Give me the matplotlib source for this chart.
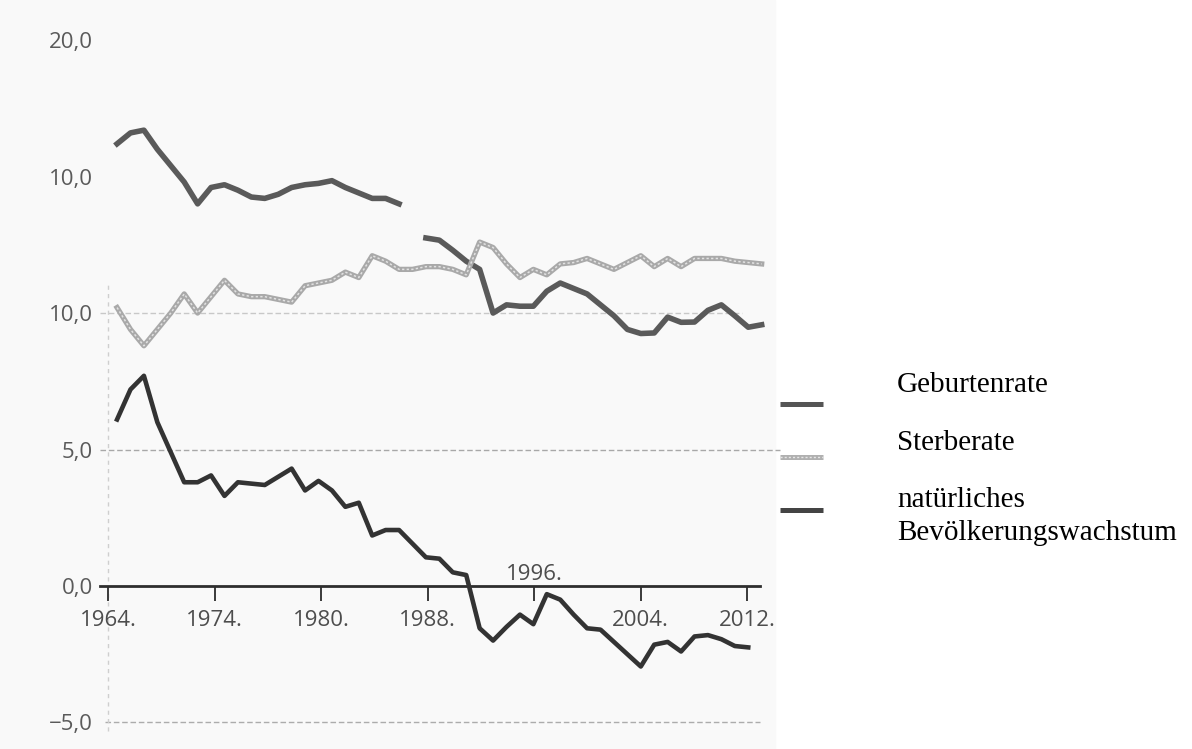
import numpy as np
import matplotlib
matplotlib.use('Agg')
import matplotlib.pyplot as plt
from matplotlib import font_manager
from matplotlib.lines import Line2D
from matplotlib.patches import Rectangle

# data (per 1000 inhabitants)
years = np.arange(1964, 2013)
geburten = [16.2, 16.6, 16.7, 16.0, 15.4, 14.8, 14.0, 14.6, 14.7, 14.5,
            14.25, 14.2, 14.35, 14.6, 14.7, 14.75, 14.85, 14.6, 14.4, 14.2,
            14.2, 14.0, np.nan, 12.75, 12.67, 12.3, 11.9, 11.6, 10.0, 10.3,
            10.25, 10.25, 10.8, 11.1, 10.9, 10.7, 10.3, 9.9, 9.4, 9.25,
            9.27, 9.85, 9.66, 9.67, 10.1, 10.3, 9.9, 9.48, 9.57]
sterbe = [10.2, 9.4, 8.8, 9.4, 10.0, 10.7, 10.0, 10.6, 11.2, 10.7,
          10.6, 10.6, 10.5, 10.4, 11.0, 11.1, 11.2, 11.5, 11.3, 12.1,
          11.9, 11.6, 11.6, 11.7, 11.7, 11.6, 11.4, 12.6, 12.4, 11.8,
          11.3, 11.6, 11.4, 11.8, 11.85, 12.0, 11.8, 11.6, 11.85, 12.1,
          11.7, 12.0, 11.7, 12.0, 12.0, 12.0, 11.9, 11.85, 11.8]
# natural growth line stops one year earlier in the picture
wachstum = [6.1, 7.2, 7.7, 6.0, 4.9, 3.8, 3.8, 4.05, 3.3, 3.8,
            3.75, 3.7, 4.0, 4.3, 3.5, 3.85, 3.5, 2.9, 3.05, 1.85,
            2.05, 2.05, 1.55, 1.05, 1.0, 0.5, 0.4, -1.55, -2.0, -1.5,
            -1.05, -1.4, -0.3, -0.5, -1.05, -1.55, -1.6, -2.05, -2.5, -2.95,
            -2.15, -2.05, -2.4, -1.85, -1.8, -1.95, -2.2, -2.25]

ytick_vals = [-5, 0, 5, 10, 15, 20]
ytick_labels = ['\u22125,0', '0,0', '5,0', '10,0', '10,0', '20,0']
xtick_labels = ['1964.', '1974.', '1980.', '1988.', '1996.', '2004.', '2012.']
legend_labels = ['Geburtenrate', 'Sterberate', 'natürliches', 'Bevölkerungswachstum']

# narrow sans for the axis numbers if it is there
installed = {f.name for f in font_manager.fontManager.ttflist}
if 'Liberation Sans Narrow' in installed:
    num_font, num_size = 'Liberation Sans Narrow', 18
else:
    num_font, num_size = 'Open Sans', 16

W, H = 1192, 749
fig = plt.figure(figsize=(W / 100, H / 100), dpi=100)
fig.patch.set_facecolor('white')
# greyish scanned paper behind the chart
fig.add_artist(Rectangle((0, 0), 775 / W, 1, transform=fig.transFigure,
                         color='#f9f9f9', zorder=-10))

ax = fig.add_axes([100 / W, 14 / H, 690 / W, 705 / H])
ax.patch.set_alpha(0)
ax.set_xlim(1962.73, 2014.11)
ax.set_ylim(-5.46, 20.37)

for s in ['left', 'right', 'top']:
    ax.spines[s].set_visible(False)
ax.spines['bottom'].set_position(('data', 0))
ax.spines['bottom'].set_bounds(1962.73, 2011.9)
ax.spines['bottom'].set_linewidth(2)
ax.spines['bottom'].set_color('#2e2e2e')

# dashed grid lines
ax.axhline(5, 0, 0.986, color='#a8a8a8', lw=1, ls=(0, (4, 2)), zorder=1)
ax.axhline(10, 0, 0.93, color='#c8c8c8', lw=1, ls=(0, (4, 2)), zorder=1)
ax.axhline(-5, 0.007, 0.957, color='#acacac', lw=1, ls=(0, (4, 2)), zorder=1)

tick_pos = np.linspace(1963.33, 2010.91, 7)
ax.axvline(tick_pos[0], 0.006, 0.64, color='#cfcfcf', lw=1, ls=(0, (3, 3)), zorder=1)

ax.set_xticks(tick_pos, [t if t != '1996.' else '' for t in xtick_labels])
ax.tick_params(axis='x', direction='out', length=11, width=1.4, color='#3a3a3a',
               pad=6, labelsize=num_size, labelcolor='#4d4d4d')
ax.annotate('1996.', xy=(tick_pos[4], 0), xytext=(0, 4), textcoords='offset points',
            ha='center', va='baseline', fontsize=num_size, color='#4d4d4d',
            family=num_font)

ax.set_yticks(ytick_vals, ytick_labels)
ax.tick_params(axis='y', length=0, pad=5, labelsize=num_size, labelcolor='#5a5a5a')
for lab in ax.get_xticklabels() + ax.get_yticklabels():
    lab.set_fontfamily(num_font)

# the three series
ax.plot(years, geburten, color='#5a5a5a', lw=4, solid_joinstyle='round', zorder=3)
ax.plot(years, sterbe, color='#a9a9a9', lw=3.8, solid_joinstyle='round', zorder=3)
ax.plot(years, sterbe, color='#e2e2e2', lw=1.1, ls=(0, (1.5, 1.5)), zorder=4)
ax.plot(years[:len(wachstum)], wachstum, color='#333333', lw=3.3,
        solid_joinstyle='round', zorder=5)

# legend on the right, drawn like the original
leg_colors = ['#555555', '#b0b0b0', '#444444']
leg_y = [404, 457, 510]
for c, y in zip(leg_colors, leg_y):
    fig.add_artist(Line2D([780 / W, 823 / W], [1 - y / H] * 2, transform=fig.transFigure,
                          color=c, lw=3.6, solid_capstyle='butt'))
fig.add_artist(Line2D([780 / W, 823 / W], [1 - 457 / H] * 2, transform=fig.transFigure,
                      color='#e6e6e6', lw=1, ls=(0, (1.5, 1.5))))

for txt, y in zip(legend_labels, [392, 450, 507, 540]):
    fig.text(897 / W, 1 - y / H, txt, family='Liberation Serif', fontsize=21,
             va='baseline', ha='left', color='black')

fig.savefig('out.png', dpi=100)
